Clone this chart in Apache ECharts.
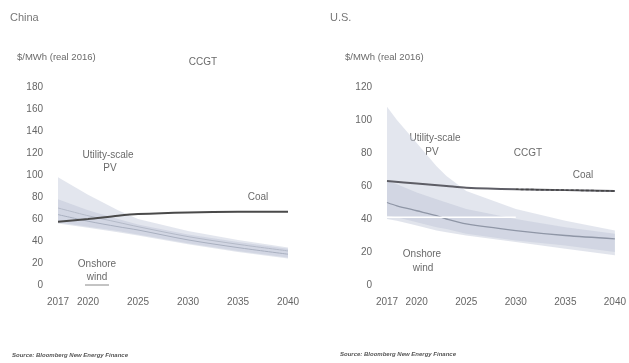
<!DOCTYPE html>
<html><head><meta charset="utf-8">
<script src="https://cdn.jsdelivr.net/npm/echarts@6/dist/echarts.min.js"></script>
<style>html,body{margin:0;padding:0;background:#fff}#c{width:629px;height:363px}</style>
</head><body><div id="c"></div>
<script>
// ---- Data ----
const xTicks = [2017, 2020, 2025, 2030, 2035, 2040];
const cnYTicksMax = 180, usYTicksMax = 120;

// China
const cnYears    = [2017, 2020, 2023, 2025, 2030, 2035, 2040];
const cnPvHigh   = [98, 82, 68, 60, 49, 41, 34];
const cnPvLow    = [57, 53, 49, 46, 38, 31, 25];
const cnWindHigh = [78, 68, 60, 55, 46, 39, 33];
const cnWindLow  = [56, 52, 48, 45, 37, 30, 24];
const cnPvMid    = [70, 63, 57, 53, 44, 37, 31];
const cnWindMid  = [64, 58, 53, 50, 41, 34, 28];
const cnCoal     = [57.5, 60, 63, 64.5, 66, 66.5, 66.5];

// U.S.
const usYears    = [2017, 2018, 2020, 2022, 2023, 2025, 2030, 2035, 2040];
const usPvHigh   = [108, 100, 86, 72, 66, 57, 46, 39, 33];
const usPvLow    = [42, 41, 38, 35, 34, 31, 27, 24, 20];
const usWindHigh = [63, 61, 56, 52, 50, 46, 40, 35, 31];
const usWindLow  = [40, 39, 36, 33, 32, 30, 26, 22, 18];
const usWindMid  = [50, 48, 45, 42, 40, 37, 33, 30, 28];
const usCoalYears = [2017, 2020, 2023, 2025, 2030, 2035, 2040];
const usCoal     = [63, 61.5, 60, 59, 58, 57.5, 57];
const usCoalDashYears = [2030, 2035, 2040];
const usCoalDash = [58, 57.5, 57];
const usCcgtYears = [2017, 2030];
const usCcgt      = [41, 41];

// ---- Build ----
const FONT = "'Liberation Sans Narrow','Liberation Sans',Arial,sans-serif";
const pair = (xs, ys) => xs.map((x, i) => [x, ys[i]]);

function band(idx, name, xs, hi, lo, color) {
  const rows = xs.map((x, i) => [x, lo[i], hi[i]]);
  return {
    name, type: 'custom', xAxisIndex: idx, yAxisIndex: idx, data: rows, silent: true, z: 1,
    encode: { x: 0, y: [1, 2] },
    renderItem: function (params, api) {
      if (params.dataIndex !== 0) return null;
      const top = rows.map(r => api.coord([r[0], r[2]]));
      const bot = rows.map(r => api.coord([r[0], r[1]])).reverse();
      return { type: 'polygon', shape: { points: top.concat(bot) },
        style: { fill: color, stroke: null } };
    }
  };
}
function line(idx, name, xs, ys, color, width, extra) {
  return Object.assign({ name, type: 'line', xAxisIndex: idx, yAxisIndex: idx, data: pair(xs, ys),
    symbol: 'none', smooth: 0.3, lineStyle: { color, width }, silent: true, z: 3 }, extra || {});
}

const axisLabel = { color: '#666', fontSize: 10, fontFamily: FONT };
function xAx(idx) {
  return { type: 'value', gridIndex: idx, min: 2017, max: 2040,
    axisLine: { show: false }, axisTick: { show: false }, splitLine: { show: false },
    axisLabel: Object.assign({ customValues: xTicks, margin: 12, formatter: v => String(v) }, axisLabel) };
}
function yAx(idx, max) {
  return { type: 'value', gridIndex: idx, min: 0, max: max, interval: 20,
    axisLine: { show: false }, axisTick: { show: false }, splitLine: { show: false },
    axisLabel: Object.assign({ margin: 15 }, axisLabel) };
}
function txt(x, y, t, opts) {
  return { type: 'text', x, y, style: Object.assign({ text: t, fill: '#6a6a6a', font: '10px ' + FONT,
    textAlign: 'center', textVerticalAlign: 'middle' }, opts || {}) };
}

const pvColor = 'rgba(200,206,222,0.5)';
const windColor = 'rgba(188,195,212,0.45)';

const option = {
  animation: false,
  grid: [
    { left: 58, right: 341, top: 87, bottom: 78 },
    { left: 387, right: 14, top: 87, bottom: 78 }
  ],
  xAxis: [xAx(0), xAx(1)],
  yAxis: [yAx(0, cnYTicksMax), yAx(1, usYTicksMax)],
  series: [
    band(0, 'Utility-scale PV', cnYears, cnPvHigh, cnPvLow, pvColor),
    band(0, 'Onshore wind', cnYears, cnWindHigh, cnWindLow, windColor),
    line(0, 'PV mid', cnYears, cnPvMid, '#b4bac8', 1),
    line(0, 'Wind mid', cnYears, cnWindMid, '#a8afbf', 1),
    line(0, 'Coal', cnYears, cnCoal, '#4a4a4a', 2),
    band(1, 'Utility-scale PV', usYears, usPvHigh, usPvLow, pvColor),
    band(1, 'Onshore wind', usYears, usWindHigh, usWindLow, windColor),
    line(1, 'Wind mid', usYears, usWindMid, '#8f96a6', 1.3),
    line(1, 'CCGT', usCcgtYears, usCcgt, '#ffffff', 1.5, { smooth: false }),
    line(1, 'Coal', usCoalYears, usCoal, '#5e5e66', 2),
    line(1, 'Coal dashed', usCoalDashYears, usCoalDash, '#444', 1.5, { lineStyle: { color: '#444', width: 1.5, type: [3, 2] }, z: 4 })
  ],
  graphic: [
    txt(10, 18, 'China', { textAlign: 'left', font: '11px ' + FONT, fill: '#777' }),
    txt(330, 18, 'U.S.', { textAlign: 'left', font: '11px ' + FONT, fill: '#777' }),
    txt(17, 57, '$/MWh (real 2016)', { textAlign: 'left', font: '9.5px ' + FONT }),
    txt(345, 57, '$/MWh (real 2016)', { textAlign: 'left', font: '9.5px ' + FONT }),
    txt(203, 62, 'CCGT'),
    txt(108, 155, 'Utility-scale'),
    txt(110, 168, 'PV'),
    txt(258, 197, 'Coal'),
    txt(97, 264, 'Onshore'),
    txt(97, 277, 'wind'),
    { type: 'line', shape: { x1: 85, y1: 285, x2: 109, y2: 285 }, style: { stroke: '#888', lineWidth: 1 } },
    txt(435, 138, 'Utility-scale'),
    txt(432, 152, 'PV'),
    txt(528, 153, 'CCGT'),
    txt(583, 175, 'Coal'),
    txt(422, 254, 'Onshore'),
    txt(423, 268, 'wind'),
    txt(12, 355, 'Source: Bloomberg New Energy Finance', { textAlign: 'left', font: 'italic bold 6px ' + FONT, fill: '#555' }),
    txt(340, 354, 'Source: Bloomberg New Energy Finance', { textAlign: 'left', font: 'italic bold 6px ' + FONT, fill: '#555' })
  ]
};
const chart = echarts.init(document.getElementById('c'), null, { renderer: 'canvas' });
chart.setOption(option);
</script></body></html>
